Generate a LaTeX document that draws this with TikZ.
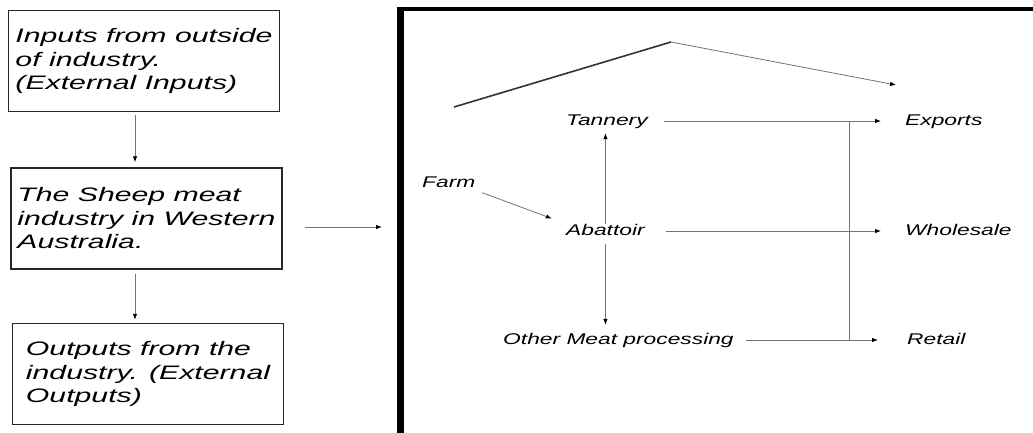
\documentclass[tikz,border=0pt]{standalone}
\usepackage{fontspec}
\setmainfont{Liberation Sans}
\newfontfamily\boxfont[FakeStretch=1.55]{Liberation Sans}
\newfontfamily\flowfont[FakeStretch=1.47]{Liberation Sans}
\usetikzlibrary{arrows.meta,calc}
\tikzset{
	sector/.style={draw=black!85,line width=1.5pt,align=left,inner sep=0pt,minimum width=271pt,minimum height=101pt,font=\boxfont\itshape\fontsize{19.5}{23.5}\selectfont},
	stage/.style={anchor=west,inner sep=0pt,text height=11pt,text depth=3pt,font=\flowfont\itshape\fontsize{15.5}{18}\selectfont},
	diredge/.style={-{Latex[length=6pt,width=4.5pt,black]},color=black!55,line width=0.8pt},
	edge/.style={color=black!55,line width=0.8pt}
}
\begin{document}
\begin{tikzpicture}[x=1pt,y=-1pt]
	\useasboundingbox (0,0) rectangle (1033,432);
	
	%%Left column
	\node[sector] (ext) at (144,61) {Inputs from outside\\of industry.\\(External Inputs)};
	\node[sector] (ind) at (146.5,218.5) {The Sheep meat\\industry in Western\\Australia.};
	\node[sector] (out) at (148,374) {Outputs from the\\industry. (External\\Outputs)};
	\coordinate (col) at (135,0);
	\draw[diredge,shorten <=3pt,shorten >=5pt] (col |- ext.south) -- (col |- ind.north);
	\draw[diredge,shorten <=4pt,shorten >=3pt] (col |- ind.south) -- (col |- out.north);
	
	%%Industry frame
	\draw[line width=4pt] (397,9) -- (1040,9);
	\draw[line width=6.5pt] (400.25,7) -- (400.25,440);
	\coordinate (frame) at (397,227);
	\draw[diredge,shorten <=22pt,shorten >=15pt] (ind.east |- frame) -- (frame);
	
	%%Stages inside the industry
	\node[stage] (farm) at (422,183) {Farm};
	\node[stage] (tannery) at (566,121) {Tannery};
	\node[stage] (abattoir) at (566,231) {Abattoir};
	\node[stage] (other) at (503,340) {Other Meat processing};
	\node[stage] (exports) at (905,121) {Exports};
	\node[stage] (wholesale) at (905,231) {Wholesale};
	\node[stage] (retail) at (907,340) {Retail};
	
	%%% flows between stages
	\draw[diredge,shorten <=7pt,shorten >=15pt] (farm.south east) -- (abattoir.north west);
	\draw[diredge,shorten >=5pt] (abattoir.north) -- (abattoir.north |- tannery.south);
	\draw[diredge,shorten <=6pt,shorten >=8pt] (abattoir.south) -- (abattoir.south |- other.north);
	\draw[diredge,shorten <=16pt,shorten >=24pt] (tannery.east) -- (exports.west);
	\draw[diredge,shorten <=21pt,shorten >=24pt] (abattoir.east) -- (wholesale.west);
	\draw[diredge,shorten <=12pt,shorten >=29pt] (other.east) -- (retail.west);
	\coordinate (merge) at (849,0);
	\draw[edge] (merge |- exports) -- (merge |- retail);
	
	%%% roof line over the stages
	\coordinate (roofl) at (454,107);
	\coordinate (roofp) at (671,42);
	\coordinate (rooft) at (896,85);
	\draw[line width=1.6pt,black!80] (roofl) -- (roofp);
	\draw[diredge] (roofp) -- (rooft);
	
\end{tikzpicture}
\end{document}
